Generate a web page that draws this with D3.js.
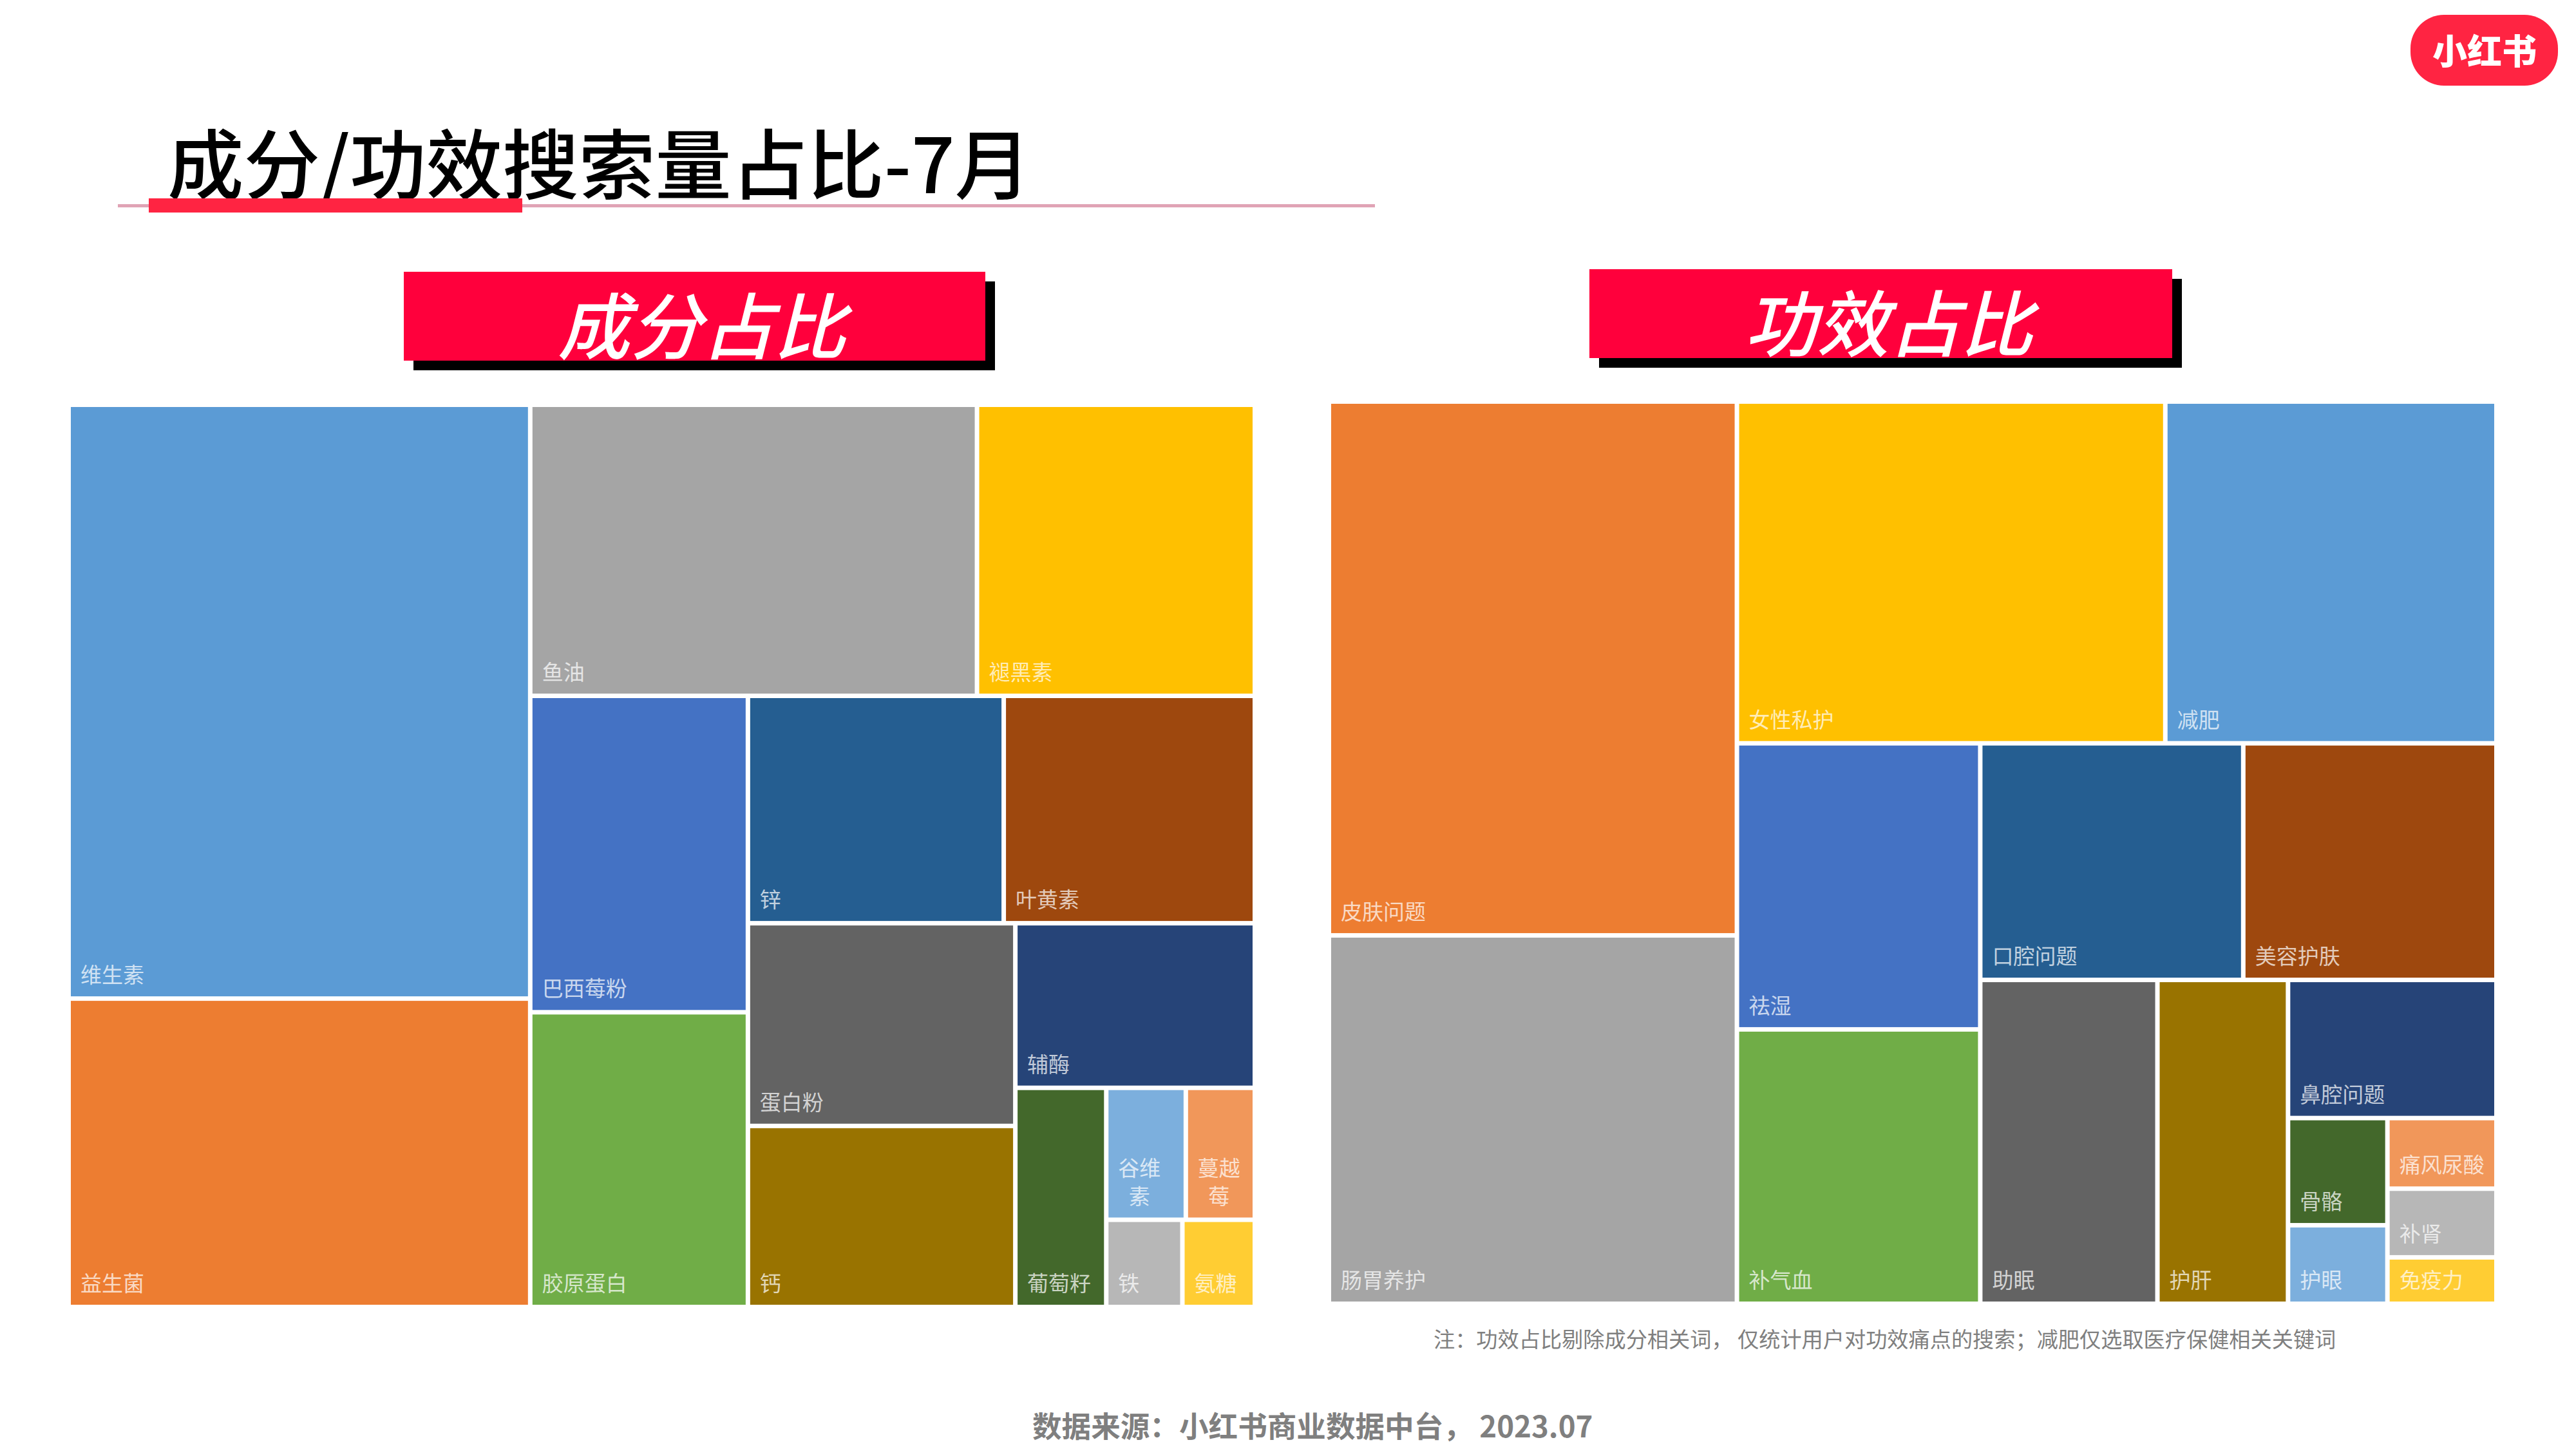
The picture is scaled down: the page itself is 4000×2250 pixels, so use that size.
<!DOCTYPE html>
<html>
<head>
<meta charset="utf-8">
<script src="https://cdn.jsdelivr.net/npm/d3@7"></script>
<style>
html, body { margin: 0; padding: 0; background: #fff; }
text { font-family: "Noto Sans CJK SC", "Noto Sans", sans-serif; }
</style>
</head>
<body>
<svg id="chart"></svg>
<script>
const width = 4000, height = 2250;

// left treemap: search share by ingredient (%)
const ingredientNames = ["维生素", "益生菌", "鱼油", "褪黑素", "巴西莓粉", "胶原蛋白", "锌", "叶黄素", "蛋白粉", "钙", "辅酶", "葡萄籽", "谷维素", "蔓越莓", "铁", "氨糖"];
const ingredientValues = [25.59, 13.29, 12.14, 7.55, 6.43, 5.99, 5.43, 5.33, 5.06, 4.52, 3.68, 1.86, 0.98, 0.85, 0.62, 0.59];
const ingredientColors = ["#5B9BD5", "#ED7D31", "#A5A5A5", "#FFC000", "#4472C4", "#70AD47", "#255E91", "#9E480E", "#636363", "#997300", "#264478", "#43682B", "#7CAFDD", "#F1975A", "#B7B7B7", "#FFCD33"];
// nesting of the cells, as indexes into the lists above
const ingredientTree = [[0, 1], [[2, 3], [[4, 5], [[6, 7], [[8, 9], [10, [11, [[12, 13], [14, 15]]]]]]]]];

// right treemap: search share by effect (%)
const effectNames = ["皮肤问题", "肠胃养护", "女性私护", "减肥", "祛湿", "补气血", "口腔问题", "美容护肤", "助眠", "护肝", "鼻腔问题", "骨骼", "护眼", "痛风尿酸", "补肾", "免疫力"];
const effectValues = [20.65, 14.25, 13.88, 10.73, 6.6, 6.33, 5.90, 5.68, 5.44, 4.01, 2.73, 1.01, 0.74, 0.73, 0.71, 0.48];
const effectColors = ["#ED7D31", "#A5A5A5", "#FFC000", "#5B9BD5", "#4472C4", "#70AD47", "#255E91", "#9E480E", "#636363", "#997300", "#264478", "#43682B", "#7CAFDD", "#F1975A", "#B7B7B7", "#FFCD33"];
const effectTree = [[0, 1], [[2, 3], [[4, 5], [[6, 7], [8, 9, [10, [[11, 12], [13, 14, 15]]]]]]]];

const titleText = "成分/功效搜索量占比-7月";
const noteText = "注：功效占比剔除成分相关词， 仅统计用户对功效痛点的搜索；减肥仅选取医疗保健相关关键词";
const sourceText = "数据来源：小红书商业数据中台， 2023.07";

const svg = d3.select("#chart")
    .attr("width", width)
    .attr("height", height)
    .attr("viewBox", `0 0 ${width} ${height}`)
    .style("display", "block");

function toHierarchy(tree, values) {
    return Array.isArray(tree)
        ? { children: tree.map(t => toHierarchy(t, values)) }
        : { index: tree, value: values[tree] };
}

function drawTreemap(box, tree, names, values, colors) {
    const root = d3.hierarchy(toHierarchy(tree, values)).sum(d => d.value || 0);

    d3.treemap()
        .tile(d3.treemapSliceDice)
        .size([box.x1 - box.x0, box.y1 - box.y0])
        .paddingInner(7)(root);

    const fontSize = 33, pad = 15, bottom = 21;
    const g = svg.append("g").attr("transform", `translate(${box.x0},${box.y0})`);

    const cell = g.selectAll("g")
        .data(root.leaves())
        .join("g")
        .attr("transform", d => `translate(${d.x0},${d.y0})`);

    cell.append("rect")
        .attr("width", d => d.x1 - d.x0)
        .attr("height", d => d.y1 - d.y0)
        .attr("fill", d => colors[d.data.index]);

    cell.each(function(d) {
        const name = names[d.data.index];
        const w = d.x1 - d.x0, h = d.y1 - d.y0;
        const perLine = Math.floor((w - 2 * pad) / fontSize);
        const label = d3.select(this).append("text")
            .attr("font-size", fontSize)
            .attr("fill", "#fff")
            .attr("fill-opacity", 0.72);

        if (name.length <= perLine) {
            label.attr("x", pad).attr("y", h - bottom).text(name);
        } else {
            // narrow cells wrap the label; the lines centre on the longest one, which stays at the left pad
            const lines = [name.slice(0, perLine), name.slice(perLine)];
            label.attr("text-anchor", "middle");
            lines.forEach((line, i) => {
                label.append("tspan")
                    .attr("x", pad + perLine * fontSize / 2)
                    .attr("y", h - bottom - (lines.length - 1 - i) * 44)
                    .text(line);
            });
        }
    });
}

// page title with its underline
svg.append("text")
    .attr("x", 260)
    .attr("y", 300)
    .attr("font-size", 118.5)
    .attr("font-weight", 500)
    .attr("fill", "#000")
    .text(titleText);

svg.append("rect")
    .attr("x", 183).attr("y", 317)
    .attr("width", 1952).attr("height", 5)
    .attr("fill", "#E0A3B5");

svg.append("rect")
    .attr("x", 231).attr("y", 308)
    .attr("width", 580).attr("height", 22)
    .attr("fill", "#FF2442");

// red section badges with black offset shadow
function drawBadge(x, y, w, h, label, textX) {
    svg.append("rect")
        .attr("x", x + 15).attr("y", y + 15)
        .attr("width", w).attr("height", h)
        .attr("fill", "#000");
    svg.append("rect")
        .attr("x", x).attr("y", y)
        .attr("width", w).attr("height", h)
        .attr("fill", "#FF003C");
    svg.append("text")
        .attr("x", textX)
        .attr("y", y + 127)
        .attr("text-anchor", "middle")
        .attr("font-size", 112)
        .attr("font-style", "italic")
        .attr("font-weight", 500)
        .attr("fill", "#fff")
        .text(label);
}

drawBadge(627, 422, 903, 138, "成分占比", 1090);
drawBadge(2468, 418, 905, 138, "功效占比", 2933);

drawTreemap({ x0: 110, y0: 632, x1: 1945, y1: 2026 }, ingredientTree, ingredientNames, ingredientValues, ingredientColors);
drawTreemap({ x0: 2067, y0: 627, x1: 3873, y1: 2021 }, effectTree, effectNames, effectValues, effectColors);

// footnotes
svg.append("text")
    .attr("x", 2226).attr("y", 2092)
    .attr("font-size", 33.2)
    .attr("fill", "#7F7F7F")
    .text(noteText);

svg.append("text")
    .attr("x", 1603).attr("y", 2232)
    .attr("font-size", 45.6)
    .attr("font-weight", 700)
    .attr("fill", "#7F7F7F")
    .text(sourceText);

// logo
svg.append("rect")
    .attr("x", 3743).attr("y", 23)
    .attr("width", 229).attr("height", 110)
    .attr("rx", 52)
    .attr("fill", "#FF2442");

svg.append("text")
    .attr("x", 3858).attr("y", 100)
    .attr("text-anchor", "middle")
    .attr("font-size", 54)
    .attr("font-weight", 900)
    .attr("fill", "#fff")
    .text("小红书");
</script>
</body>
</html>
